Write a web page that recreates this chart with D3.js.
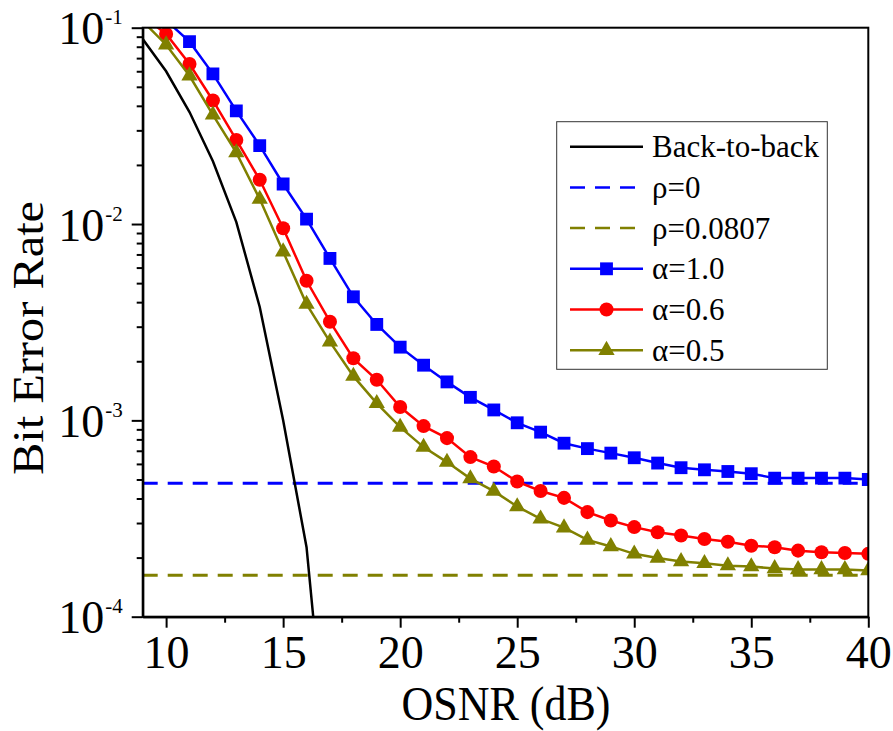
<!DOCTYPE html>
<html>
<head>
<meta charset="utf-8">
<script src="https://cdn.jsdelivr.net/npm/d3@7"></script>
<style>
  body { margin: 0; background: #fff; }
  text { font-family: "Liberation Serif", "Times New Roman", serif; fill: #000; }
</style>
</head>
<body>
<svg id="chart" width="893" height="731"></svg>
<script>
// OSNR (dB) sample points
const osnr = [9, 10, 11, 12, 13, 14, 15, 16, 17, 18, 19, 20, 21, 22, 23, 24,
  25, 26, 27, 28, 29, 30, 31, 32, 33, 34, 35, 36, 37, 38, 39, 40];

// BER series (null = not plotted)
const backToBack = [0.0876, 0.0600, 0.0372, 0.0209, 0.01023, 0.00378, 0.00100, 0.000226, 0.000013,
  null, null, null, null, null, null, null, null, null, null, null, null, null, null, null,
  null, null, null, null, null, null, null, null];
const alpha10 = [null, 0.109, 0.0849, 0.0582, 0.0377, 0.0251, 0.0160, 0.0106, 0.00668, 0.00426,
  0.00308, 0.00236, 0.00191, 0.00157, 0.00131, 0.00113, 0.000972, 0.000871, 0.000765, 0.000718,
  0.000681, 0.000645, 0.000606, 0.000574, 0.000560, 0.000549, 0.000535, 0.000508, 0.000508,
  0.000508, 0.000508, 0.000500];
const alpha06 = [0.115, 0.0929, 0.0653, 0.0426, 0.0268, 0.0168, 0.00951, 0.00514, 0.00318, 0.00207,
  0.00161, 0.00117, 0.000935, 0.000812, 0.000650, 0.000582, 0.000488, 0.000437, 0.000403, 0.000341,
  0.000309, 0.000286, 0.000269, 0.000259, 0.000249, 0.000241, 0.000230, 0.000226, 0.000217,
  0.000213, 0.000211, 0.000209];
const alpha05 = [0.108, 0.0819, 0.0569, 0.0360, 0.0231, 0.0134, 0.00723, 0.00391, 0.00251, 0.00168,
  0.00122, 0.000924, 0.000731, 0.000613, 0.000505, 0.000436, 0.000364, 0.000315, 0.000284, 0.000246,
  0.000228, 0.000209, 0.000199, 0.000191, 0.000187, 0.000182, 0.000180, 0.000176, 0.000174,
  0.000174, 0.000174, 0.000172];
// horizontal reference levels
const rho0 = 0.000478;
const rho0807 = 0.0001625;

const xTicks = [10, 15, 20, 25, 30, 35, 40];
const xMinorTicks = [12.5, 17.5, 22.5, 27.5, 32.5, 37.5];
const yTicks = [1e-4, 1e-3, 1e-2, 1e-1];
const yExponents = ['-4', '-3', '-2', '-1'];

const legendLabels = ['Back-to-back', 'ρ=0', 'ρ=0.0807', 'α=1.0', 'α=0.6', 'α=0.5'];

const margin = {top: 27.7, right: 24.7, bottom: 114.3, left: 142.7};
const width = 893, height = 731;
const gWidth = width - margin.left - margin.right;
const gHeight = height - margin.top - margin.bottom;

const svg = d3.select('#chart');
const g = svg.append('g').attr('transform', `translate(${margin.left},${margin.top})`);

const x = d3.scaleLinear().domain([9, 40]).range([0, gWidth]);
const y = d3.scaleLog().domain([1e-4, 1e-1]).range([gHeight, 0]);

// minor y ticks 2..9 per decade
const yMinorTicks = [];
yTicks.slice(0, 3).forEach(d => { for (let k = 2; k <= 9; k++) yMinorTicks.push(d * k); });

g.append('defs').append('clipPath').attr('id', 'clip')
  .append('rect').attr('width', gWidth).attr('height', gHeight);

const plot = g.append('g').attr('clip-path', 'url(#clip)');

// dashed reference lines
[[rho0, '#0000ff'], [rho0807, '#808000']].forEach(([v, c]) => {
  plot.append('line')
    .attr('x1', x(9)).attr('x2', x(40))
    .attr('y1', y(v)).attr('y2', y(v))
    .attr('stroke', c).attr('stroke-width', 3)
    .attr('stroke-dasharray', '15,10');
});

const series = [
  {vals: alpha10, color: '#0000ff', symbol: d3.symbolSquare, size: 165},
  {vals: alpha06, color: '#ff0000', symbol: d3.symbolCircle, size: 155},
  {vals: alpha05, color: '#808000', symbol: d3.symbolTriangle, size: 115}
];

const line = d3.line()
  .defined(d => d[1] != null)
  .x(d => x(d[0]))
  .y(d => y(d[1]));

series.forEach(s => {
  const pts = osnr.map((o, i) => [o, s.vals[i]]);
  plot.append('path').datum(pts)
    .attr('fill', 'none').attr('stroke', s.color).attr('stroke-width', 2.5)
    .attr('d', line);
  plot.selectAll(null).data(pts.filter(d => d[1] != null)).enter()
    .append('path')
    .attr('transform', d => `translate(${x(d[0])},${y(d[1])})`)
    .attr('d', d3.symbol().type(s.symbol).size(s.size))
    .attr('fill', s.color);
});

plot.append('path').datum(osnr.map((o, i) => [o, backToBack[i]]))
  .attr('fill', 'none').attr('stroke', '#000').attr('stroke-width', 2.5)
  .attr('d', line);

// frame
g.append('rect').attr('width', gWidth).attr('height', gHeight)
  .attr('fill', 'none').attr('stroke', '#000').attr('stroke-width', 2);

// x axis
const xAxis = g.append('g').attr('transform', `translate(0,${gHeight})`)
  .call(d3.axisBottom(x).tickValues(xTicks).tickSize(11).tickPadding(8).tickSizeOuter(0));
xAxis.selectAll('text').style('font-size', '46px');
g.append('g').attr('transform', `translate(0,${gHeight})`)
  .call(d3.axisBottom(x).tickValues(xMinorTicks).tickSize(6).tickFormat('').tickSizeOuter(0));

// y axis
const yAxis = g.append('g')
  .call(d3.axisLeft(y).tickValues(yTicks).tickSize(11).tickPadding(9).tickSizeOuter(0));
yAxis.selectAll('.tick text').each(function(d, i) {
  const t = d3.select(this).text(null).attr('dy', '16').style('font-size', '46px');
  t.append('tspan').text('10');
  t.append('tspan').text(yExponents[i]).attr('dy', -20).attr('dx', 1).style('font-size', '21px');
});
g.append('g')
  .call(d3.axisLeft(y).tickValues(yMinorTicks).tickSize(6).tickFormat('').tickSizeOuter(0));

g.selectAll('.domain').attr('stroke-width', 2);
g.selectAll('.tick line').attr('stroke-width', 2);

// axis titles
svg.append('text')
  .attr('transform', 'translate(506,720) scale(1,1.1)')
  .attr('text-anchor', 'middle').style('font-size', '44px')
  .text('OSNR (dB)');
svg.append('text')
  .attr('transform', 'translate(43,338) rotate(-90) scale(1.1,1)')
  .attr('text-anchor', 'middle').style('font-size', '44px')
  .text('Bit Error Rate');

// legend
const legend = svg.append('g');
legend.append('rect')
  .attr('x', 556.7).attr('y', 121.7).attr('width', 270.6).attr('height', 247.6)
  .attr('fill', '#fff').attr('stroke', '#333').attr('stroke-width', 1);

const legendStyles = [
  {color: '#000', dash: null, symbol: null},
  {color: '#0000ff', dash: '15,10', symbol: null},
  {color: '#808000', dash: '15,10', symbol: null},
  {color: '#0000ff', dash: null, symbol: d3.symbolSquare, size: 165},
  {color: '#ff0000', dash: null, symbol: d3.symbolCircle, size: 155},
  {color: '#808000', dash: null, symbol: d3.symbolTriangle, size: 115}
];
legendLabels.forEach((lab, i) => {
  const st = legendStyles[i];
  const cy = 146.7 + i * 40.7;
  legend.append('line')
    .attr('x1', 570).attr('x2', 643).attr('y1', cy).attr('y2', cy)
    .attr('stroke', st.color).attr('stroke-width', 2.5)
    .attr('stroke-dasharray', st.dash);
  if (st.symbol) {
    legend.append('path')
      .attr('transform', `translate(606.5,${cy})`)
      .attr('d', d3.symbol().type(st.symbol).size(st.size))
      .attr('fill', st.color);
  }
  legend.append('text')
    .attr('x', 652).attr('y', cy + 10.5)
    .style('font-size', '31px')
    .text(lab);
});
</script>
</body>
</html>
